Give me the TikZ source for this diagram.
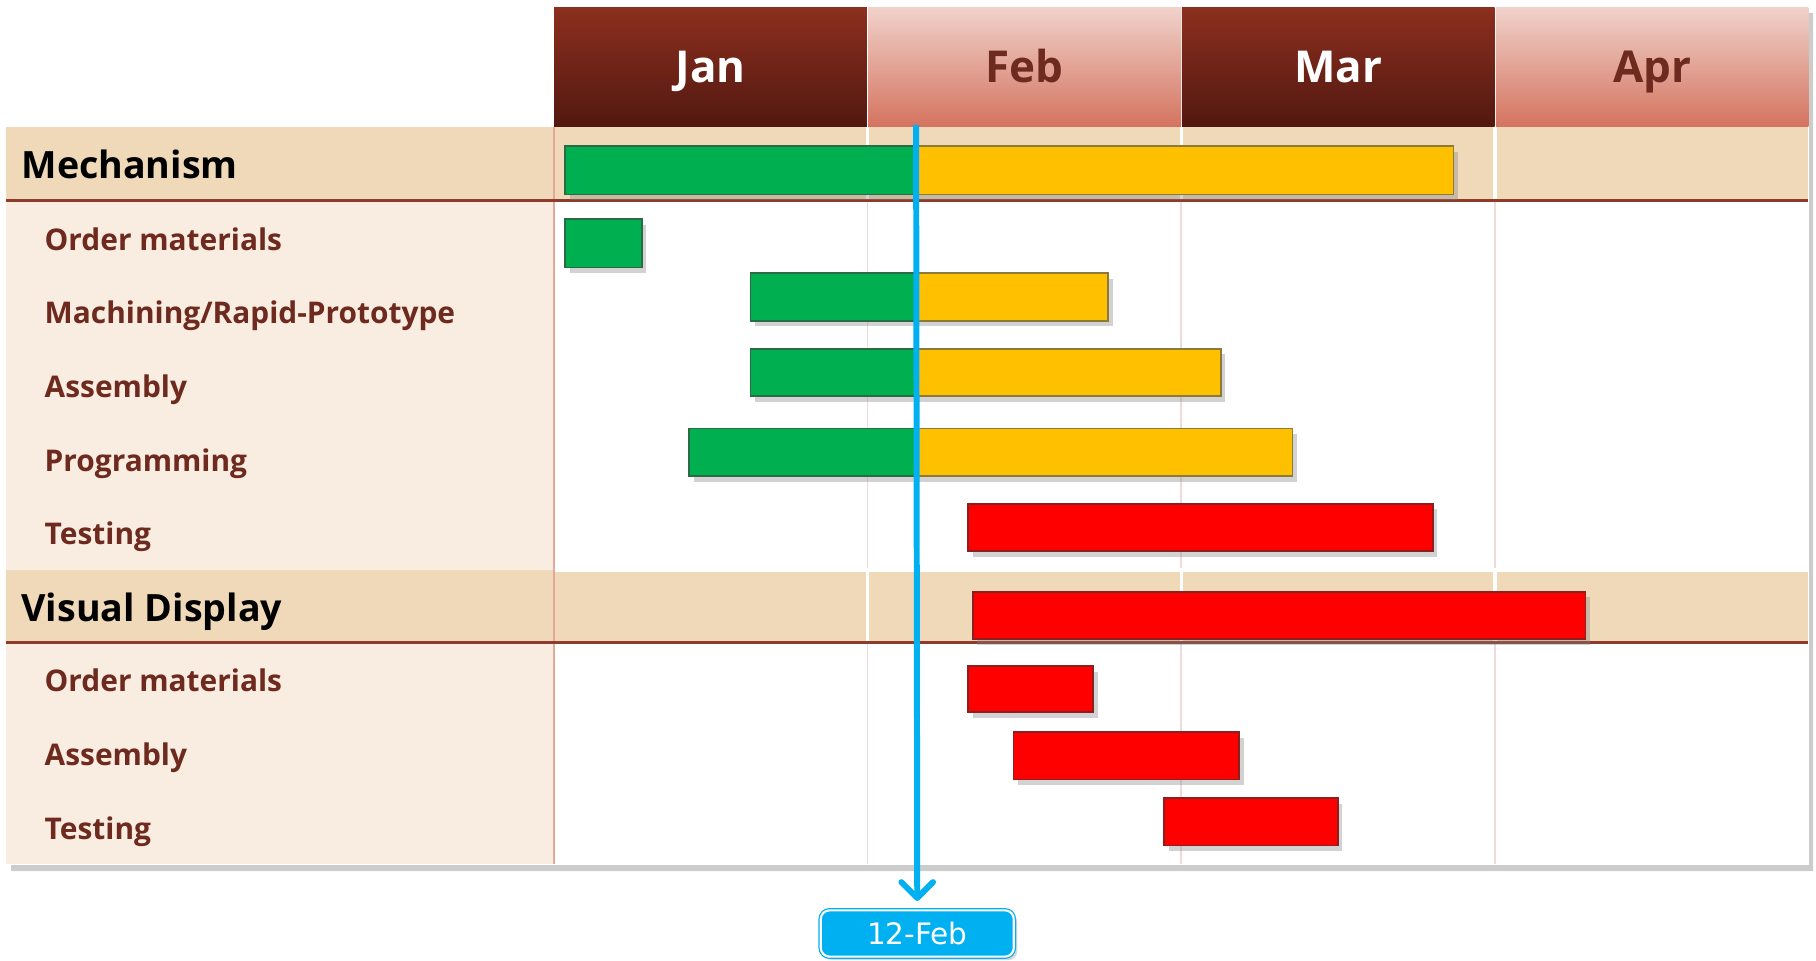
\documentclass[tikz,border=0pt]{standalone}
\usepackage{fontspec}
\setmainfont{Open Sans}
\newfontfamily\datefont{DejaVu Sans}
\usetikzlibrary{shadows,arrows.meta}
\usepackage{xcolor}
\definecolor{hdrdarktop}{HTML}{8C2F1F}
\definecolor{hdrdarkbot}{HTML}{521810}
\definecolor{hdrlighttop}{HTML}{F0D2CA}
\definecolor{hdrlightbot}{HTML}{D4735F}
\definecolor{brownink}{HTML}{6E2A1E}
\definecolor{bandtan}{HTML}{EFD9B9}
\definecolor{panelcream}{HTML}{F9EDE1}
\definecolor{rule}{HTML}{8E3B2B}
\definecolor{gridpink}{HTML}{EFDADA}
\definecolor{edgesalmon}{HTML}{E6A898}
\definecolor{barg}{HTML}{00B050}
\definecolor{bargdark}{HTML}{2A6B45}
\definecolor{bary}{HTML}{FFC000}
\definecolor{barydark}{HTML}{8C7A3A}
\definecolor{barr}{HTML}{FF0000}
\definecolor{barrdark}{HTML}{8B2020}
\definecolor{todayblue}{HTML}{00B0F0}

\tikzset{
  hdrcell/.style={minimum width=3.127cm, minimum height=1.193cm, inner sep=0pt,
    text height=8.9pt, text depth=0pt,
    font=\fontsize{12.5}{15}\selectfont\bfseries},
  hdrdark/.style={hdrcell, top color=hdrdarktop, bottom color=hdrdarkbot, text=white},
  hdrlight/.style={hdrcell, top color=hdrlighttop, bottom color=hdrlightbot, text=brownink},
  grouplbl/.style={anchor=west, inner sep=0pt, text height=7.6pt, text depth=0pt,
    font=\fontsize{10.7}{13}\selectfont\bfseries},
  tasklbl/.style={anchor=west, inner sep=0pt, text=brownink, text height=6.1pt, text depth=0pt,
    font=\fontsize{8.5}{10}\selectfont\bfseries},
  barshadow/.style={drop shadow={shadow xshift=1.3pt, shadow yshift=-1.6pt, opacity=.35}},
  gbar/.style={fill=barg, draw=bargdark, line width=0.5pt},
  ybar/.style={fill=bary, draw=barydark, line width=0.5pt},
  rbar/.style={fill=barr, draw=barrdark, line width=0.5pt},
  todayline/.style={draw=todayblue, line width=1.7pt,
    -{Straight Barb[round, length=4.5pt, width=9pt]}, shorten >=2.5pt},
  datebox/.style={draw=todayblue, double=white, double distance=0.6pt, line width=0.35pt,
    fill=todayblue, rounded corners=2.5pt, minimum width=1.93cm, minimum height=0.43cm,
    text=white, font=\datefont\fontsize{8.4}{10}\selectfont,
    drop shadow={shadow xshift=1pt, shadow yshift=-1pt, opacity=.3}}
}

\begin{document}
\begin{tikzpicture}[x=0.011582cm, y=-0.011582cm]
\useasboundingbox (0,0) rectangle (1568,829);

\filldraw[white, drop shadow={shadow xshift=1.5pt, shadow yshift=-2pt, opacity=.4}]
  (478,5) -- (1561,5) -- (1561,746) -- (5,746) -- (5,110) -- (478,110) -- cycle;

\fill[panelcream] (5,173) rectangle (478,492);
\fill[panelcream] (5,555) rectangle (478,746);
\fill[bandtan] (5,110) rectangle (1561,173);
\fill[bandtan] (5,492) rectangle (1561,555);

\foreach \x in {749,1020,1291} {
  \draw[gridpink, line width=0.5pt] (\x,173) -- (\x,492);
  \draw[gridpink, line width=0.5pt] (\x,555) -- (\x,746);
  \draw[white, line width=1pt] (\x,110) -- (\x,173);
  \draw[white, line width=1pt] (\x,492) -- (\x,555);
}
\draw[white, line width=1pt] (478,492) -- (1561,492);
\draw[edgesalmon, line width=0.6pt] (478,110) -- (478,746);
\draw[rule, line width=0.9pt] (5,173) -- (1561,173);
\draw[rule, line width=0.9pt] (5,555) -- (1561,555);

\node[hdrdark] (jan) at (613.5,58) {Jan};
\node[hdrlight] (feb) at (884.5,58) {Feb};
\node[hdrdark] (mar) at (1155.5,58) {Mar};
\node[hdrlight] (apr) at (1426.5,58) {Apr};

\node[grouplbl] (mech) at (18,143) {Mechanism};
\node[tasklbl] (mechorder) at (38,207) {Order materials};
\node[tasklbl] (mechmach) at (38,270) {Machining/Rapid-Prototype};
\node[tasklbl] (mechasm) at (38,334) {Assembly};
\node[tasklbl] (mechprog) at (38,398) {Programming};
\node[tasklbl] (mechtest) at (38,461) {Testing};
\node[grouplbl] (vis) at (18,525) {Visual Display};
\node[tasklbl] (visorder) at (38,588) {Order materials};
\node[tasklbl] (visasm) at (38,652) {Assembly};
\node[tasklbl] (vistest) at (38,716) {Testing};

\filldraw[ybar, barshadow] (488,126) rectangle (1255,168);
\filldraw[gbar] (488,126) rectangle (791,168);
\filldraw[gbar, barshadow] (488,189) rectangle (554,231);
\filldraw[ybar, barshadow] (648,236) rectangle (957,277);
\filldraw[gbar] (648,236) rectangle (791,277);
\filldraw[ybar, barshadow] (648,301) rectangle (1054,342);
\filldraw[gbar] (648,301) rectangle (791,342);
\filldraw[ybar, barshadow] (595,370) rectangle (1116,411);
\filldraw[gbar] (595,370) rectangle (791,411);
\filldraw[rbar, barshadow] (836,435) rectangle (1237,476);
\filldraw[rbar, barshadow] (840,511) rectangle (1369,552);
\filldraw[rbar, barshadow] (836,575) rectangle (944,615);
\filldraw[rbar, barshadow] (875,632) rectangle (1070,673);
\filldraw[rbar, barshadow] (1005,689) rectangle (1155,730);

\coordinate (today) at (791,108);
\node[datebox] (datelbl) at (792,806) {12-Feb};
\draw[todayline] (today) -- (datelbl.north);
\end{tikzpicture}
\end{document}
